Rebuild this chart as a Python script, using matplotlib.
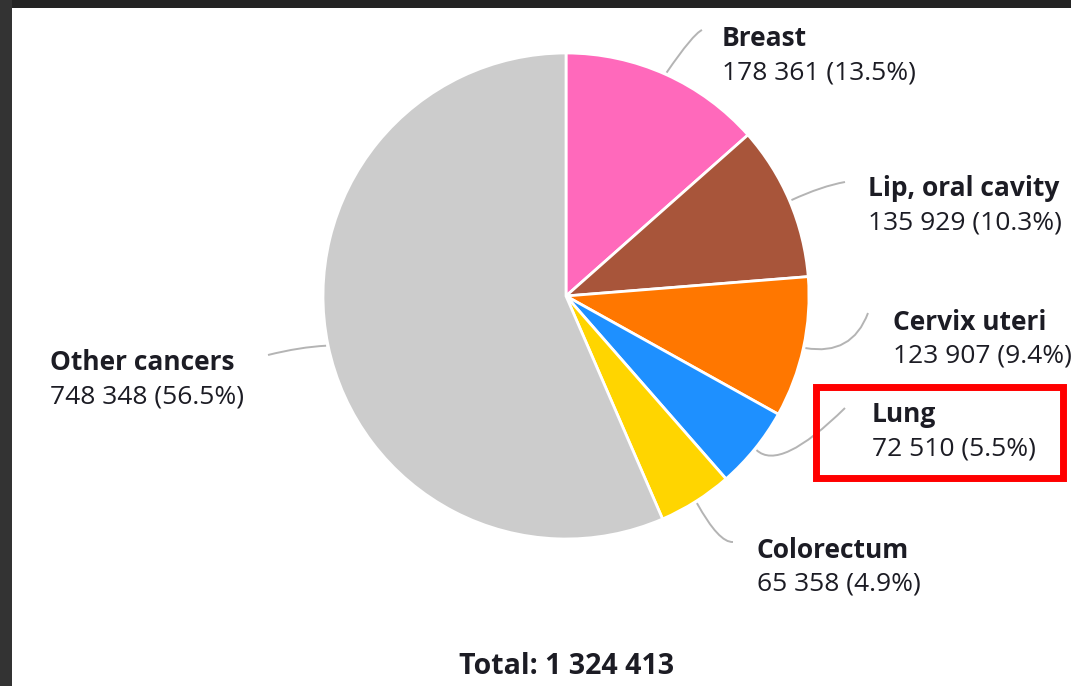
import numpy as np
import matplotlib
matplotlib.use("Agg")
import matplotlib.pyplot as plt
from matplotlib.patches import Rectangle, PathPatch
from matplotlib.path import Path

categories = ["Breast", "Lip, oral cavity", "Cervix uteri", "Lung", "Colorectum", "Other cancers"]
values = [178361, 135929, 123907, 72510, 65358, 748348]
percents = ["13.5%", "10.3%", "9.4%", "5.5%", "4.9%", "56.5%"]
value_labels = ["178 361", "135 929", "123 907", "72 510", "65 358", "748 348"]
total_label = "Total: 1 324 413"
colors = ["#FF69BB", "#A8553A", "#FF7700", "#1E90FF", "#FFD500", "#CCCCCC"]

W, H = 1071, 686
fig = plt.figure(figsize=(W / 100, H / 100), dpi=100)
ax = fig.add_axes([0, 0, 1, 1])

# frame
ax.add_patch(Rectangle((0, 0), W, H, facecolor="white", edgecolor="none", zorder=0))
ax.add_patch(Rectangle((0, H - 8), W, 8, facecolor="#242424", edgecolor="none", zorder=0.5))
ax.add_patch(Rectangle((0, 0), 12, H, facecolor="#333333", edgecolor="none", zorder=0.5))

cx, cy, R = 566, H - 296, 243
wedges, _ = ax.pie(values, colors=colors, startangle=90, counterclock=False,
                   center=(cx, cy), radius=R, frame=True,
                   wedgeprops=dict(edgecolor="white", linewidth=2))
ax.set_xlim(0, W)
ax.set_ylim(0, H)
ax.set_aspect("equal")
ax.axis("off")

font = "Open Sans"
tc = "#1c1c24"
fs = 19

# label anchors (pixel coords, top-origin): text x, name center y, curve control, end
label_pos = [
    (722, 39, (693, 34), (702, 30)),
    (868, 189, (822, 186), (845, 182)),
    (893, 322, (852, 356), (868, 313)),
    (872, 415, (780, 472), (845, 408)),
    (757, 550, (719, 543), (733, 542)),
    (50, 363, (300, 347), (268, 355)),
]

for w, name, vl, pc, (tx, ty, ctrl, end) in zip(wedges, categories, value_labels, percents, label_pos):
    ang = np.deg2rad((w.theta1 + w.theta2) / 2)
    sx = cx + (R + 2) * np.cos(ang)
    sy = cy + (R + 2) * np.sin(ang)
    verts = [(sx, sy), (ctrl[0], H - ctrl[1]), (end[0], H - end[1])]
    path = Path(verts, [Path.MOVETO, Path.CURVE3, Path.CURVE3])
    ax.add_patch(PathPatch(path, facecolor="none", edgecolor="#B4B4B4", linewidth=1.4, zorder=3))
    ax.text(tx, H - ty, name, fontsize=fs, fontweight="bold", family=font, color=tc,
            ha="left", va="center", zorder=4)
    ax.text(tx, H - ty - 34, f"{vl} ({pc})", fontsize=fs, family=font, color=tc,
            ha="left", va="center", zorder=4)

# highlight box around Lung
ax.add_patch(Rectangle((816, H - 478), 247, 91, facecolor="none", edgecolor="#FF0000",
                       linewidth=5, zorder=5))

ax.text(567, H - 667, total_label, fontsize=20.5, fontweight="bold", family=font, color=tc,
        ha="center", va="center", zorder=4)

fig.savefig("out.png", dpi=100)
